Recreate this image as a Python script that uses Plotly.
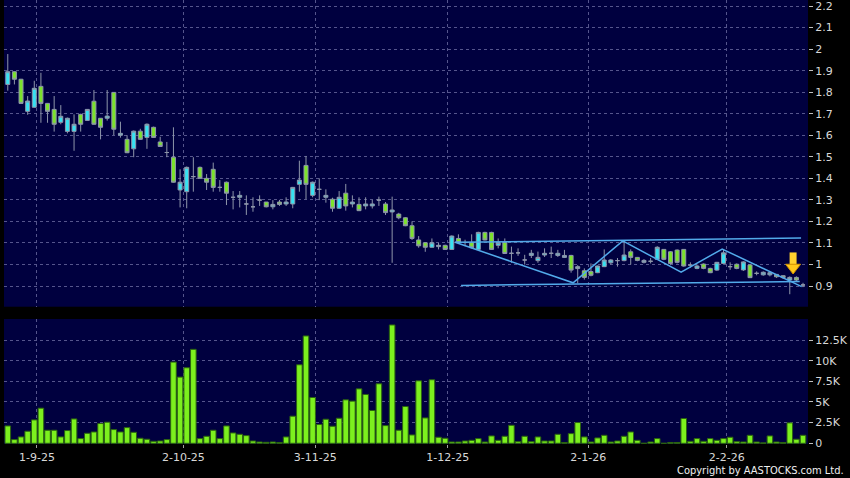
import plotly.graph_objects as go

# ---------------- data ----------------
idx = list(range(121))

opens = [1.836, 1.895, 1.860, 1.711, 1.730, 1.827, 1.748, 1.720, 1.660, 1.618,
         1.618, 1.697, 1.669, 1.758, 1.679, 1.679, 1.799, 1.600, 1.581, 1.537,
         1.619, 1.590, 1.637, 1.569, 1.520, 1.498, 1.346, 1.338, 1.408, 1.451,
         1.400, 1.442, 1.358, 1.382, 1.312, 1.312, 1.281, 1.268, 1.299, 1.290,
         1.268, 1.290, 1.281, 1.281, 1.372, 1.460, 1.321, 1.349, 1.312, 1.303,
         1.261, 1.331, 1.281, 1.279, 1.272, 1.272, 1.299, 1.281, 1.244, 1.234,
         1.217, 1.180, 1.114, 1.101, 1.080, 1.083, 1.089, 1.070, 1.121, 1.102,
         1.102, 1.070, 1.149, 1.149, 1.089, 1.102, 1.052, 1.054, 1.021, 1.042,
         1.018, 1.044, 1.052, 1.042, 1.033, 1.042, 0.981, 0.971, 0.967, 0.962,
         0.990, 1.008, 1.018, 1.018, 1.059, 1.033, 1.010, 1.015, 1.024, 1.070,
         1.059, 1.067, 1.070, 0.997, 0.982, 1.002, 0.982, 0.974, 1.005, 0.990,
         1.001, 0.975, 0.998, 0.959, 0.952, 0.952, 0.954, 0.948, 0.928, 0.940,
         0.905]
closes = [1.895, 1.860, 1.748, 1.759, 1.818, 1.748, 1.711, 1.651, 1.688, 1.679,
          1.651, 1.651, 1.720, 1.651, 1.637, 1.689, 1.628, 1.609, 1.519, 1.619,
          1.581, 1.651, 1.590, 1.548, 1.520, 1.382, 1.382, 1.451, 1.408, 1.400,
          1.382, 1.358, 1.358, 1.331, 1.312, 1.321, 1.281, 1.268, 1.299, 1.268,
          1.279, 1.279, 1.290, 1.358, 1.392, 1.372, 1.382, 1.349, 1.321, 1.261,
          1.312, 1.272, 1.290, 1.250, 1.281, 1.281, 1.299, 1.241, 1.253, 1.217,
          1.180, 1.121, 1.087, 1.080, 1.101, 1.089, 1.070, 1.132, 1.102, 1.102,
          1.078, 1.149, 1.114, 1.070, 1.102, 1.051, 1.052, 1.054, 1.021, 1.052,
          1.033, 1.052, 1.052, 1.052, 1.042, 0.974, 0.990, 0.940, 0.950, 0.993,
          1.021, 1.021, 1.018, 1.044, 1.033, 1.019, 1.019, 1.015, 1.080, 1.024,
          1.005, 1.010, 0.993, 0.997, 0.993, 0.982, 0.962, 1.010, 1.054, 0.990,
          0.982, 1.012, 0.939, 0.959, 0.964, 0.962, 0.943, 0.939, 0.940, 0.928,
          0.905]
highs = [1.977, 1.897, 1.862, 1.782, 1.853, 1.890, 1.750, 1.782, 1.740, 1.682,
         1.697, 1.700, 1.722, 1.810, 1.680, 1.810, 1.800, 1.663, 1.600, 1.622,
         1.630, 1.655, 1.640, 1.593, 1.569, 1.637, 1.442, 1.455, 1.498, 1.455,
         1.420, 1.473, 1.392, 1.385, 1.341, 1.341, 1.321, 1.312, 1.321, 1.290,
         1.299, 1.300, 1.312, 1.360, 1.482, 1.504, 1.385, 1.400, 1.349, 1.310,
         1.341, 1.374, 1.321, 1.312, 1.312, 1.300, 1.315, 1.290, 1.315, 1.240,
         1.220, 1.200, 1.132, 1.103, 1.121, 1.100, 1.092, 1.135, 1.140, 1.115,
         1.140, 1.152, 1.152, 1.152, 1.121, 1.121, 1.083, 1.075, 1.045, 1.068,
         1.060, 1.075, 1.083, 1.068, 1.068, 1.045, 0.997, 0.982, 1.005, 0.995,
         1.070, 1.025, 1.030, 1.111, 1.070, 1.035, 1.025, 1.030, 1.085, 1.072,
         1.062, 1.070, 1.072, 1.010, 1.000, 1.005, 0.985, 1.012, 1.072, 1.010,
         1.005, 1.015, 1.001, 0.968, 0.968, 0.965, 0.956, 0.950, 0.945, 0.945,
         0.915]
lows = [1.807, 1.836, 1.745, 1.695, 1.728, 1.658, 1.658, 1.617, 1.651, 1.609,
        1.528, 1.617, 1.667, 1.649, 1.581, 1.668, 1.601, 1.589, 1.517, 1.498,
        1.578, 1.537, 1.588, 1.546, 1.498, 1.380, 1.265, 1.261, 1.338, 1.398,
        1.346, 1.338, 1.338, 1.276, 1.256, 1.265, 1.230, 1.245, 1.272, 1.265,
        1.256, 1.272, 1.272, 1.261, 1.338, 1.303, 1.312, 1.299, 1.287, 1.245,
        1.258, 1.250, 1.265, 1.248, 1.256, 1.260, 1.272, 1.230, 1.008, 1.210,
        1.178, 1.114, 1.078, 1.059, 1.078, 1.070, 1.068, 1.068, 1.100, 1.085,
        1.075, 1.068, 1.112, 1.068, 1.075, 1.049, 1.008, 1.040, 1.000, 1.030,
        1.008, 1.035, 1.030, 1.035, 1.030, 0.962, 0.913, 0.930, 0.945, 0.960,
        0.988, 1.000, 0.990, 1.015, 1.000, 1.015, 1.005, 1.005, 1.022, 1.020,
        1.000, 1.005, 0.990, 0.985, 0.978, 0.978, 0.960, 0.970, 1.000, 0.975,
        0.978, 0.970, 0.937, 0.950, 0.948, 0.945, 0.938, 0.933, 0.862, 0.920,
        0.895]
volumes = [2100, 450, 770, 1460, 2830, 4250, 1580, 1580, 770, 1540,
           2950, 570, 1210, 1370, 2390, 2550, 1660, 1370, 1900, 1330,
           610, 490, 240, 280, 450, 9830, 8010, 9140, 11370, 570,
           850, 1580, 570, 2100, 1250, 1090, 930, 280, 160, 120,
           160, 100, 770, 3280, 9500, 12990, 5540, 2270, 2910, 2060,
           3030, 5260, 5100, 6590, 5910, 3970, 7200, 2140, 14320, 1580,
           4450, 1010, 7560, 3070, 7690, 730, 610, 160, 160, 280,
           360, 570, 160, 890, 360, 850, 2180, 200, 850, 200,
           770, 280, 280, 1090, 100, 1170, 2510, 770, 160, 650,
           970, 160, 280, 850, 1370, 360, 0, 160, 570, 0,
           100, 100, 3000, 240, 570, 240, 570, 360, 570, 730,
           200, 160, 970, 160, 50, 890, 160, 100, 2470, 490,
           970]

date_labels = ["1-9-25", "2-10-25", "3-11-25", "1-12-25", "2-1-26", "2-2-26"]
date_pos = [4.4, 26.5, 46.4, 66.4, 87.6, 108.5]

price_ticks = [2.2, 2.1, 2.0, 1.9, 1.8, 1.7, 1.6, 1.5, 1.4, 1.3, 1.2, 1.1, 1.0, 0.9]
price_labels = ["2.2", "2.1", "2", "1.9", "1.8", "1.7", "1.6", "1.5", "1.4", "1.3",
                "1.2", "1.1", "1", "0.9"]
vol_ticks = [0, 2500, 5000, 7500, 10000, 12500]
vol_labels = ["0", "2.5K", "5K", "7.5K", "10K", "12.5K"]

# drawn pattern lines (channel + zigzag), in (bar index, price)
upper_x = [67.5, 119.7]
upper_y = [1.103, 1.123]
lower_x = [68.4, 119.5]
lower_y = [0.903, 0.921]
zig_x = [67.5, 85.3, 92.8, 101.6, 107.8, 119.8]
zig_y = [1.103, 0.915, 1.110, 0.964, 1.072, 0.897]

# signal arrow at the latest bars
arrow_x = 118.5
arrow_shaft = [1.056, 0.998]
arrow_head = 0.986

# ---------------- figure ----------------
CYAN = "#36E2F2"
GREEN = "#7CE22C"
WICK = "#8E96AA"
GRID = "#55558C"
TXT = "#D8D8D8"
LINE = "#52AAEA"

fig = go.Figure()

fig.add_trace(go.Candlestick(
    x=idx, open=opens, high=highs, low=lows, close=closes,
    xaxis="x", yaxis="y", whiskerwidth=0,
    increasing=dict(fillcolor=CYAN, line=dict(color=WICK, width=1)),
    decreasing=dict(fillcolor=GREEN, line=dict(color=WICK, width=1)),
    showlegend=False, hoverinfo="skip"))

for xs, ys in [(upper_x, upper_y), (lower_x, lower_y), (zig_x, zig_y)]:
    fig.add_trace(go.Scatter(x=xs, y=ys, mode="lines", xaxis="x", yaxis="y",
                             line=dict(color=LINE, width=1.5),
                             showlegend=False, hoverinfo="skip"))

fig.add_trace(go.Scatter(x=[arrow_x, arrow_x], y=arrow_shaft, mode="lines",
                         xaxis="x", yaxis="y",
                         line=dict(color="#FFD22E", width=7),
                         showlegend=False, hoverinfo="skip"))
fig.add_trace(go.Scatter(x=[arrow_x], y=[arrow_head], mode="markers",
                         xaxis="x", yaxis="y",
                         marker=dict(symbol="triangle-down", size=13, color="#FFC81A",
                                     line=dict(color="#D09000", width=1)),
                         showlegend=False, hoverinfo="skip"))

fig.add_trace(go.Bar(x=idx, y=volumes, xaxis="x2", yaxis="y2", width=0.84,
                     marker=dict(color="#7CF01E", line=dict(color="#2C6410", width=1)),
                     showlegend=False, hoverinfo="skip"))

xr = [-0.57, 120.75]
axis_font = dict(family="DejaVu Sans", size=11, color=TXT)

fig.update_layout(
    width=850, height=478,
    margin=dict(l=4, r=42, t=0, b=34),
    paper_bgcolor="#000000",
    plot_bgcolor="#00003F",
    boxgap=0.14,
    bargap=0.14,
    xaxis=dict(domain=[0, 1], anchor="y", range=xr, rangeslider=dict(visible=False),
               tickvals=date_pos, ticktext=date_labels, showticklabels=False,
               showgrid=True, gridcolor=GRID, griddash="3px,3px", gridwidth=1,
               zeroline=False, showline=False, ticks=""),
    xaxis2=dict(domain=[0, 1], anchor="y2", range=xr,
                tickvals=date_pos, ticktext=date_labels, tickfont=axis_font,
                showgrid=True, gridcolor=GRID, griddash="3px,3px", gridwidth=1,
                zeroline=False, showline=False, ticks="outside", ticklen=3,
                tickcolor="#A0A0A0"),
    yaxis=dict(domain=[0.3092, 1], anchor="x", side="right", range=[0.804, 2.228],
               tickvals=price_ticks, ticktext=price_labels, tickfont=axis_font,
               ticklabeloverflow="allow",
               showgrid=True, gridcolor=GRID, griddash="3px,3px", gridwidth=1,
               zeroline=False, showline=False, ticks="outside", ticklen=4,
               tickcolor="#C0C0C0"),
    yaxis2=dict(domain=[0, 0.2815], anchor="x2", side="right", range=[-85, 15040],
                tickvals=vol_ticks, ticktext=vol_labels, tickfont=axis_font,
                ticklabeloverflow="allow",
                showgrid=True, gridcolor=GRID, griddash="3px,3px", gridwidth=1,
                zeroline=False, showline=False, ticks="outside", ticklen=4,
                tickcolor="#C0C0C0"),
    annotations=[dict(text="Copyright by AASTOCKS.com Ltd.", xref="paper", yref="paper",
                      x=1.047, y=-0.0586, xanchor="right", yanchor="middle",
                      showarrow=False,
                      font=dict(family="DejaVu Sans Condensed, Liberation Sans Narrow, sans-serif",
                                size=11, color="#F0F0F0"))],
)

fig.write_html("out.html",
               config={"displayModeBar": False},
               post_script="document.body.style.margin='0';"
                           "document.body.style.background='#000';")
